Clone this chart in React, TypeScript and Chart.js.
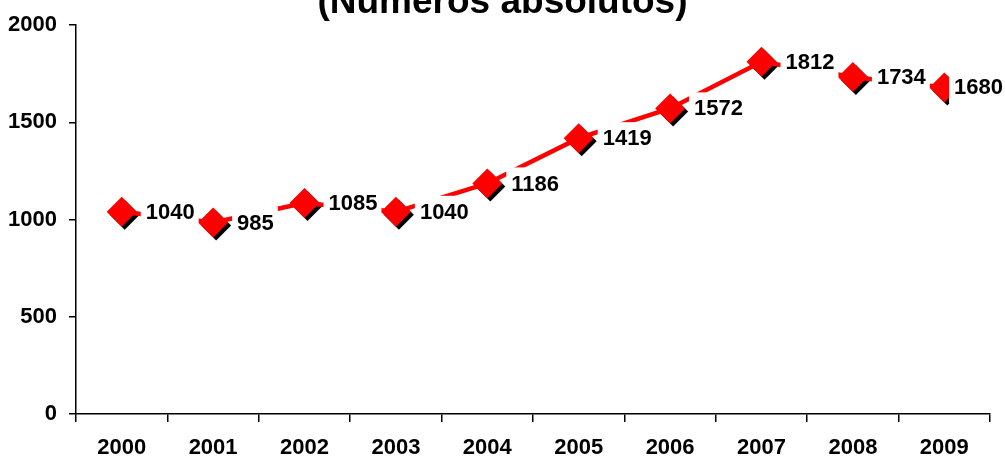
import React, { useEffect, useRef } from "react";
import { Chart, registerables } from "chart.js";

Chart.register(...registerables);

const TITLE = "(Números absolutos)";
const years = ["2000", "2001", "2002", "2003", "2004", "2005", "2006", "2007", "2008", "2009"];
const values = [1040, 985, 1085, 1040, 1186, 1419, 1572, 1812, 1734, 1680];
const yMin = 0;
const yMax = 2000;
const yStep = 500;

const FONT_FAMILY = "'Liberation Sans', Arial, sans-serif";

export default function App() {
  const ref = useRef<HTMLCanvasElement>(null);

  useEffect(() => {
    if (!ref.current) return;

    const shadowPlugin = {
      id: "markerShadow",
      beforeDatasetDraw(chart: any, args: any) {
        if (args.index === 1) {
          chart.ctx.save();
          chart.ctx.translate(3, 3);
        }
      },
      afterDatasetDraw(chart: any, args: any) {
        if (args.index === 1) chart.ctx.restore();
      },
    };

    const labelPlugin = {
      id: "valueLabels",
      afterDatasetsDraw(chart: any) {
        const ctx = chart.ctx;
        const meta = chart.getDatasetMeta(0);
        ctx.save();
        ctx.font = `bold 22px ${FONT_FAMILY}`;
        ctx.textBaseline = "middle";
        ctx.textAlign = "left";
        meta.data.forEach((pt: any, i: number) => {
          const text = String(values[i]);
          const w = ctx.measureText(text).width;
          let tx = pt.x + 24;
          if (tx + w > chart.width - 2) tx = chart.width - 2 - w;
          ctx.fillStyle = "#ffffff";
          ctx.fillRect(tx - 5, pt.y - 16, w + 9, 32);
          ctx.fillStyle = "#000000";
          ctx.fillText(text, tx, pt.y + 1);
        });
        ctx.restore();
      },
    };

    const titlePlugin = {
      id: "cutTitle",
      afterDraw(chart: any) {
        const ctx = chart.ctx;
        ctx.save();
        ctx.font = `bold 37px ${FONT_FAMILY}`;
        ctx.textAlign = "center";
        ctx.textBaseline = "alphabetic";
        ctx.fillStyle = "#000000";
        ctx.fillText(TITLE, chart.width / 2, 13);
        ctx.restore();
      },
    };

    const chart = new Chart(ref.current, {
      type: "line",
      data: {
        labels: years,
        datasets: [
          {
            data: values,
            borderColor: "#ff0000",
            borderWidth: 4.5,
            pointStyle: "rectRot",
            pointRadius: 15,
            pointHoverRadius: 15,
            pointBackgroundColor: "#ff0000",
            pointBorderWidth: 0,
            tension: 0,
            clip: false,
            order: 0,
          },
          {
            data: values,
            showLine: false,
            pointStyle: "rectRot",
            pointRadius: 15,
            pointHoverRadius: 15,
            pointBackgroundColor: "#000000",
            pointBorderWidth: 0,
            clip: false,
            order: 1,
          },
        ],
      },
      options: {
        responsive: false,
        animation: false,
        devicePixelRatio: 1,
        layout: { padding: { top: 24, right: 13, left: 0, bottom: 0 } },
        plugins: {
          legend: { display: false },
          tooltip: { enabled: false },
          title: { display: false },
        },
        events: [],
        scales: {
          x: {
            type: "category",
            offset: true,
            grid: {
              offset: true,
              drawOnChartArea: false,
              drawTicks: true,
              tickLength: 8,
              color: "#000000",
              lineWidth: 1.5,
            },
            border: { display: true, color: "#000000", width: 1.5 },
            ticks: {
              color: "#000000",
              padding: 13,
              maxRotation: 0,
              font: { family: FONT_FAMILY, size: 22, weight: "bold" },
            },
            afterFit(scale: any) {
              scale.height = 46;
            },
          },
          y: {
            min: yMin,
            max: yMax,
            grid: {
              drawOnChartArea: false,
              drawTicks: true,
              tickLength: 7,
              color: "#000000",
              lineWidth: 1.5,
            },
            border: { display: true, color: "#000000", width: 1.5 },
            ticks: {
              stepSize: yStep,
              color: "#000000",
              padding: 12,
              font: { family: FONT_FAMILY, size: 22, weight: "bold" },
              callback: (v: any) => String(v),
            },
            afterFit(scale: any) {
              scale.width = 76;
            },
          },
        },
      },
      plugins: [shadowPlugin, labelPlugin, titlePlugin],
    } as any);

    return () => chart.destroy();
  }, []);

  return (
    <div style={{ position: "absolute", left: 0, top: 0, width: 1005, height: 460, background: "#fff" }}>
      <canvas ref={ref} width={1005} height={460} style={{ display: "block" }} />
    </div>
  );
}
